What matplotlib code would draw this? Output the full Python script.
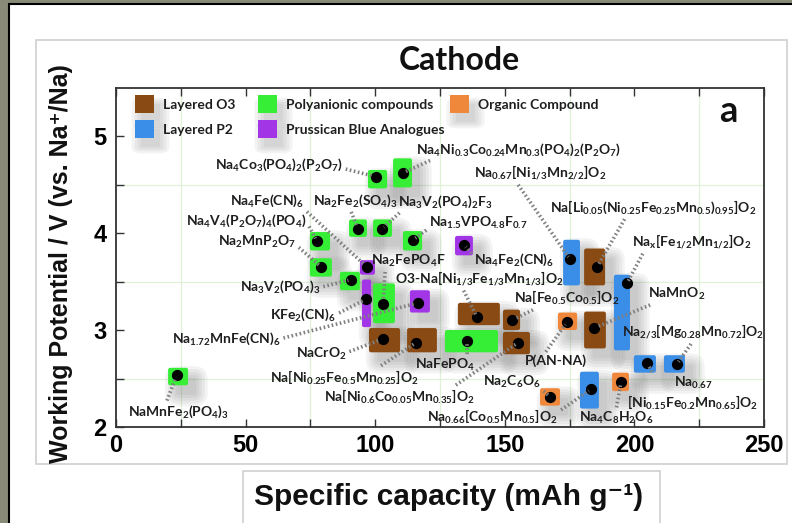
import matplotlib
matplotlib.use('Agg')
import matplotlib.pyplot as plt
from matplotlib.patches import FancyBboxPatch, Rectangle
from matplotlib.transforms import Bbox, TransformedBbox

plt.rcParams['font.family'] = ['Liberation Sans', 'DejaVu Sans']
plt.rcParams['font.weight'] = 'bold'
plt.rcParams['mathtext.fontset'] = 'custom'
plt.rcParams['mathtext.rm'] = 'Lato:bold'
plt.rcParams['mathtext.it'] = 'Lato:bold'
plt.rcParams['mathtext.bf'] = 'Lato:bold'
plt.rcParams['mathtext.default'] = 'rm'

W, H = 792, 523

# ---- data ----
names = [
    'NaMnFe$_2$(PO$_4$)$_3$',
    'Na$_4$Co$_3$(PO$_4$)$_2$(P$_2$O$_7$)',
    'Na$_4$Ni$_{0.3}$Co$_{0.24}$Mn$_{0.3}$(PO$_4$)$_2$(P$_2$O$_7$)',
    'Na$_2$Fe$_2$(SO$_4$)$_3$',
    'Na$_3$V$_2$(PO$_4$)$_2$F$_3$',
    'Na$_4$V$_4$(P$_2$O$_7$)$_4$(PO$_4$)',
    'Na$_2$MnP$_2$O$_7$',
    'Na$_4$Fe(CN)$_6$',
    'Na$_2$FePO$_4$F',
    'Na$_3$V$_2$(PO$_4$)$_3$',
    'KFe$_2$(CN)$_6$',
    'Na$_{1.72}$MnFe(CN)$_6$',
    'Na$_{1.5}$VPO$_{4.8}$F$_{0.7}$',
    'Na$_4$Fe$_2$(CN)$_6$',
    'NaCrO$_2$',
    'Na[Ni$_{0.25}$Fe$_{0.5}$Mn$_{0.25}$]O$_2$',
    'NaFePO$_4$',
    'O3-Na[Ni$_{1/3}$Fe$_{1/3}$Mn$_{1/3}$]O$_2$',
    'Na[Fe$_{0.5}$Co$_{0.5}$]O$_2$',
    'Na[Ni$_{0.6}$Co$_{0.05}$Mn$_{0.35}$]O$_2$',
    'P(AN-NA)',
    'NaMnO$_2$',
    'Na$_{0.67}$[Ni$_{1/3}$Mn$_{2/2}$]O$_2$',
    'Na[Li$_{0.05}$(Ni$_{0.25}$Fe$_{0.25}$Mn$_{0.5}$)$_{0.95}$]O$_2$',
    'Na$_x$[Fe$_{1/2}$Mn$_{1/2}$]O$_2$',
    'Na$_{2/3}$[Mg$_{0.28}$Mn$_{0.72}$]O$_2$',
    'Na$_{0.67}$\n[Ni$_{0.15}$Fe$_{0.2}$Mn$_{0.65}$]O$_2$',
    'Na$_{0.66}$[Co$_{0.5}$Mn$_{0.5}$]O$_2$',
    'Na$_4$C$_8$H$_2$O$_6$',
    'Na$_2$C$_6$O$_6$',
]
kinds = ['poly', 'poly', 'poly', 'poly', 'poly', 'poly', 'poly', 'pba', 'poly', 'poly',
         'pba', 'pba', 'poly', 'pba', 'O3', 'O3', 'poly', 'O3', 'O3', 'O3',
         'org', 'O3', 'P2', 'O3', 'P2', 'P2', 'P2', 'P2', 'org', 'org']
cap = [23.5, 100.3, 110.7, 93.4, 102.6, 77.5, 79.1, 96.8, 103.0, 90.7,
       96.5, 116.5, 114.6, 134.3, 103.0, 115.7, 135.4, 139.3, 152.8, 155.1,
       174.0, 184.4, 175.2, 185.6, 197.1, 216.4, 204.9, 183.3, 194.8, 167.4]
volt = [2.54, 4.58, 4.62, 4.04, 4.04, 3.92, 3.65, 3.65, 3.27, 3.52,
        3.32, 3.28, 3.93, 3.88, 2.91, 2.87, 2.89, 3.13, 3.10, 2.87,
        3.08, 3.02, 3.73, 3.65, 3.48, 2.65, 2.66, 2.39, 2.46, 2.31]
cap_lo = [20.1, 97.2, 106.9, 89.9, 99.2, 74.8, 74.8, 94.1, 99.2, 86.4,
          94.9, 113.4, 110.7, 130.8, 97.6, 112.3, 126.9, 131.9, 149.3, 149.3,
          170.5, 180.6, 172.5, 180.6, 192.1, 211.4, 199.8, 179.0, 191.4, 163.6]
cap_hi = [27.8, 104.6, 114.2, 96.8, 106.5, 82.6, 83.3, 99.9, 107.6, 94.1,
          98.4, 121.1, 118.1, 137.7, 109.6, 123.8, 147.4, 148.1, 155.9, 159.7,
          177.9, 189.0, 179.0, 188.7, 198.3, 219.5, 208.3, 186.3, 197.9, 171.3]
volt_lo = [2.43, 4.46, 4.47, 3.96, 3.96, 3.82, 3.55, 3.57, 3.07, 3.41,
           3.03, 3.18, 3.82, 3.77, 2.77, 2.77, 2.77, 3.05, 3.00, 2.75,
           3.00, 2.81, 3.46, 3.46, 2.79, 2.56, 2.56, 2.19, 2.37, 2.22]
volt_hi = [2.61, 4.65, 4.77, 4.14, 4.14, 4.01, 3.74, 3.72, 3.48, 3.60,
           3.52, 3.41, 4.02, 3.97, 3.02, 3.02, 3.00, 3.28, 3.21, 2.98,
           3.18, 3.19, 3.93, 3.84, 3.57, 2.74, 2.74, 2.57, 2.56, 2.40]

# label placement (layout)
lab_x = [23.9, 62.9, 155.1, 92.6, 126.9, 50.2, 54.4, 58.3, 112.8, 63.4,
         72.3, 42.6, 139.8, 153.7, 79.2, 88.0, 126.9, 140.1, 174.0, 109.2,
         169.8, 216.4, 163.6, 207.2, 222.2, 222.6, 222.6, 145.4, 192.9, 152.8]
lab_y = [2.16, 4.70, 4.86, 4.33, 4.32, 4.12, 3.91, 4.33, 3.71, 3.44,
         3.16, 2.91, 4.10, 3.72, 2.75, 2.51, 2.64, 3.53, 3.33, 2.31,
         2.68, 3.37, 4.62, 4.26, 3.91, 2.98, 2.35, 2.10, 2.09, 2.46]
lab_rel = [(0.38, 1), (1, 0.3), (0.1, 0), (0.43, 0), (0.05, 0), (1, 0.5), (1, 0.3), (1, 0),
           (0.19, 0), (1, 0.5), (1, 0.5), (1, 0.5), (0, 0.2), (0, 0.7), (1, 0.6), (0.72, 1),
           (0.87, 1), (0.4, 0), (0.23, 0), (0.85, 1), (0.3, 1), (0.15, 0), (0.32, 0), (0.37, 0),
           (0.1, 0), (0.5, 0), (0.2, 1), (1, 0.8), (0.5, 1), (0.95, 0.3)]

colors = {'O3': '#8a4a14', 'P2': '#3b8ee8', 'poly': '#35ee35',
          'pba': '#a236e6', 'org': '#f0883c'}
legend_items = [('Layered O3', 'O3', 135, 95), ('Layered P2', 'P2', 135, 120),
                ('Polyanionic compounds', 'poly', 258, 95),
                ('Prussican Blue Analogues', 'pba', 258, 120),
                ('Organic Compound', 'org', 450, 95)]


def fx(px):
    return px / W


def fy(py):
    return 1 - py / H


fig = plt.figure(figsize=(W / 100, H / 100), dpi=100, facecolor='#8a8a78')
fig.add_artist(Rectangle((fx(9), fy(600)), 1, fy(4) - fy(600), transform=fig.transFigure,
                         facecolor='white', edgecolor='black', lw=1.5, zorder=-10))
fig.add_artist(Rectangle((fx(36), fy(464)), fx(787) - fx(36), fy(40) - fy(464),
                         transform=fig.transFigure, facecolor='none',
                         edgecolor='#cfcfcf', lw=1.2, zorder=-9))
fig.add_artist(Rectangle((fx(243), fy(540)), fx(660) - fx(243), fy(471) - fy(540),
                         transform=fig.transFigure, facecolor='none',
                         edgecolor='#cfcfcf', lw=1.2, zorder=-9))

ax = fig.add_axes([fx(116), fy(427), fx(764) - fx(116), fy(88) - fy(427)])
ax.set_xlim(0, 250)
ax.set_ylim(2, 5.495)
ax.set_xticks([0, 50, 100, 150, 200, 250])
ax.set_xticks([25, 75, 125, 175, 225], minor=True)
ax.set_yticks([2, 3, 4, 5])
ax.set_yticks([2.5, 3.5, 4.5], minor=True)
ax.grid(which='minor', color='#dff2d8', lw=0.9)
ax.set_axisbelow(True)
ax.tick_params(which='both', direction='in', top=True, length=6, width=1.0,
               color='#333333', labelsize=17, pad=5)
ax.tick_params(axis='y', pad=7)
for s in ax.spines.values():
    s.set_color('#333333')
    s.set_linewidth(1.3)

asp = (250 / 648) / (3.495 / 339)  # x-units per y-unit for equal pixels
aspect = 1 / asp

# shadows
for i in range(len(names)):
    for k in range(5):
        sh = FancyBboxPatch((cap_lo[i] + 3.2, volt_lo[i] - 0.10),
                            cap_hi[i] - cap_lo[i], volt_hi[i] - volt_lo[i],
                            boxstyle='round,pad=%.2f,rounding_size=%.2f' % (k * 1.1, 1 + k * 1.1),
                            mutation_aspect=aspect, facecolor='#606060',
                            edgecolor='none', alpha=0.075, zorder=1.5)
        ax.add_patch(sh)

# range boxes
for i in range(len(names)):
    ax.add_patch(FancyBboxPatch((cap_lo[i], volt_lo[i]), cap_hi[i] - cap_lo[i],
                                volt_hi[i] - volt_lo[i],
                                boxstyle='round,pad=0,rounding_size=0.8',
                                mutation_aspect=aspect, facecolor=colors[kinds[i]],
                                edgecolor='none', zorder=2))

ax.scatter(cap, volt, s=50, color='black', zorder=4)

for i in range(len(names)):
    ax.annotate(names[i], xy=(cap[i], volt[i]), xytext=(lab_x[i], lab_y[i]),
                ha='center', va='center', multialignment='center',
                fontsize=10, family='Lato', fontweight='bold', color='#1e1e1e',
                zorder=5,
                arrowprops=dict(arrowstyle='-', color='#808080', lw=2.6,
                                linestyle=(0, (0.45, 0.7)), capstyle='butt',
                                shrinkA=0, shrinkB=2, relpos=lab_rel[i]))

# legend drawn by hand
for lab, kd, px, py in legend_items:
    for k in range(4):
        fig.add_artist(FancyBboxPatch((fx(px + 6), fy(py + 27)), fx(19), fy(0) - fy(18),
                                      boxstyle='round,pad=%.4f' % (k * 0.004),
                                      transform=fig.transFigure, facecolor='#606060',
                                      edgecolor='none', alpha=0.07, zorder=3))
    fig.add_artist(Rectangle((fx(px), fy(py + 18)), fx(19), fy(0) - fy(18),
                             transform=fig.transFigure, facecolor=colors[kd],
                             edgecolor='none', zorder=4))
    fig.text(fx(px + 28), fy(py + 10), lab, ha='left', va='center', fontsize=10,
             family='Lato', fontweight='bold', color='#1e1e1e', zorder=5)

fig.text(fx(459), fy(61), 'Cathode', ha='center', va='center', fontsize=23,
         family='Lato', fontweight='bold', color='#111111')
fig.text(fx(728), fy(112), 'a', ha='center', va='center', fontsize=26,
         family='Lato', fontweight='bold', color='#111111')
fig.text(fx(449), fy(497), 'Specific capacity (mAh g⁻¹)', ha='center', va='center',
         fontsize=21.5, fontweight='bold', color='#111111')
yl = fig.text(fx(61), fy(264), 'Working Potential / V (vs. Na⁺/Na)', ha='center',
              va='center', rotation=90, fontsize=18, fontweight='bold', color='#111111')
yl.set_clip_box(TransformedBbox(Bbox([[fx(36), fy(464)], [fx(787), fy(40)]]),
                                fig.transFigure))
yl.set_clip_on(True)

fig.savefig('out.png', dpi=100, facecolor=fig.get_facecolor())
